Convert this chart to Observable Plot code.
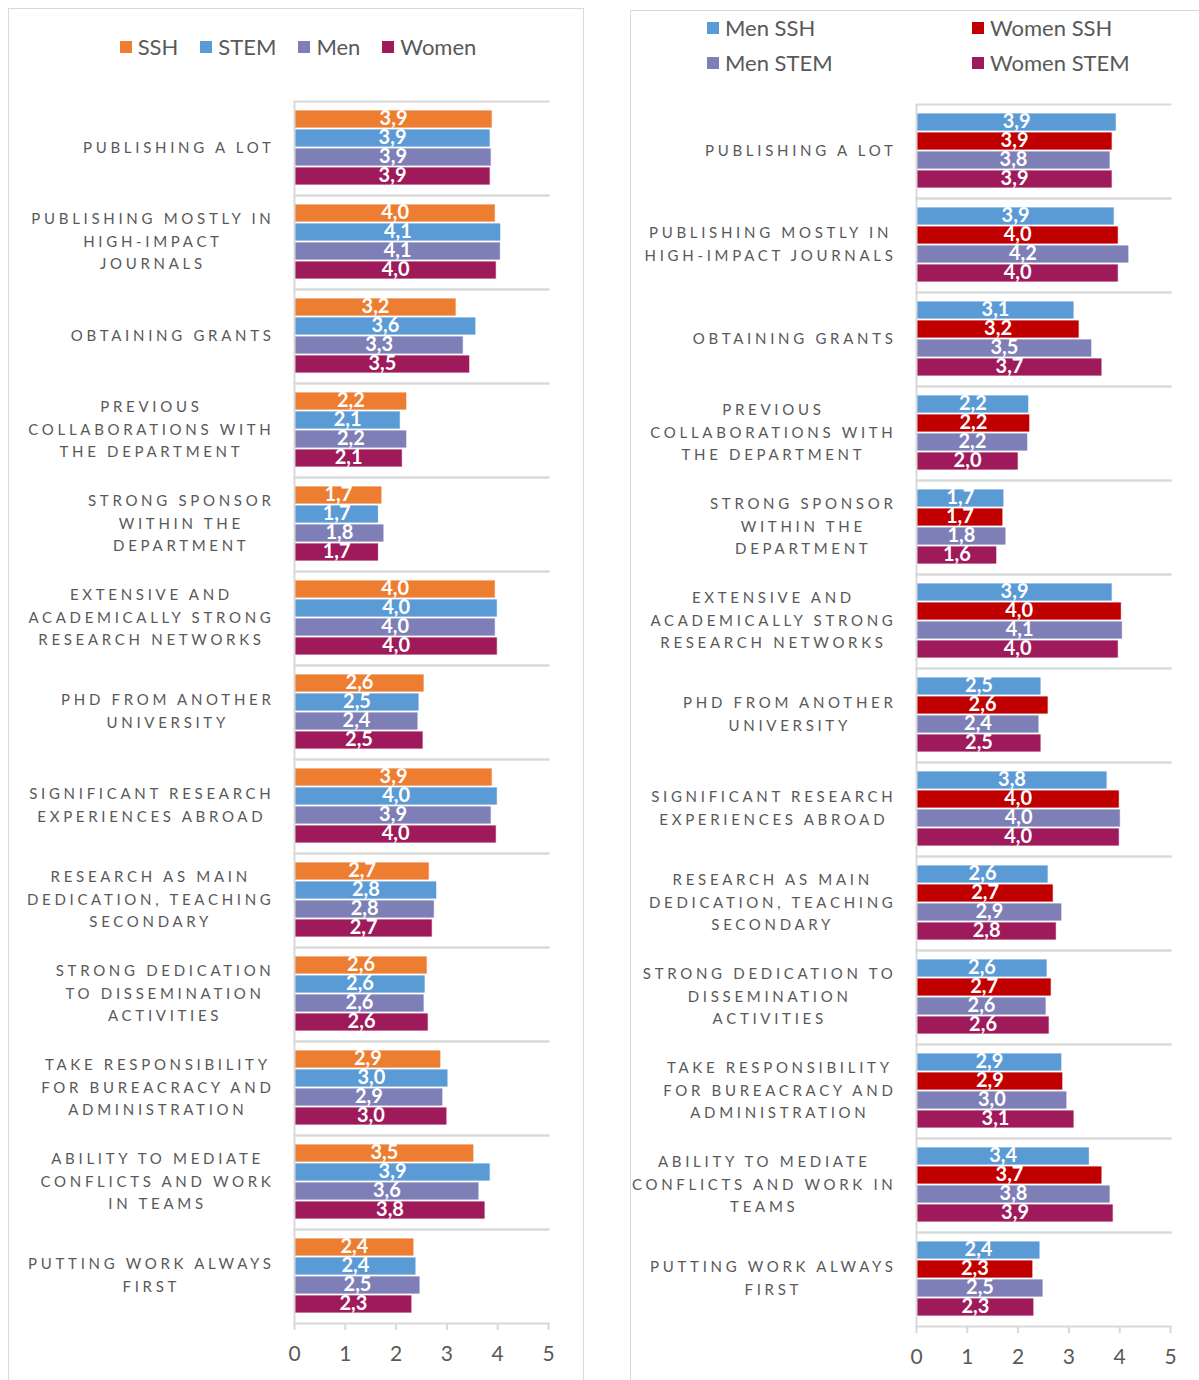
<!DOCTYPE html>
<html>
<head>
<meta charset="utf-8">
<script src="https://cdn.jsdelivr.net/npm/d3@7"></script>
<script src="https://cdn.jsdelivr.net/npm/@observablehq/plot@0.6"></script>
<style>
  html, body { margin: 0; padding: 0; background: #fff; overflow: hidden; width: 1199px; height: 1380px; }
  body { position: relative; font-family: Lato, "Open Sans", sans-serif; }
  .panel { position: absolute; width: 576px; height: 1400px; border: 1.5px solid #d9d9d9; box-sizing: border-box; }
  .chart { position: absolute; width: 576px; height: 1284px; }
  .chart svg { max-width: none !important; width: 576px; height: 1284px; }
  .legend { position: absolute; font-size: 22px; color: #595959; }
  .item { display: flex; align-items: center; white-space: nowrap; }
  .sw { width: 12px; height: 12px; margin-right: 6px; display: inline-block; }
  #legL { left: 10px; width: 576px; top: 33px; display: flex; justify-content: center; gap: 22px; }
  g[aria-label="fy-axis tick label"] text { letter-spacing: 3.7px; }
</style>
</head>
<body>
<div class="panel" style="left:8px; top:8px;"></div>
<div class="panel" style="left:630px; top:10px;"></div>
<div id="legL" class="legend"></div>
<div id="legR"></div>
<div id="chartL" class="chart" style="left:8px; top:90px;"></div>
<div id="chartR" class="chart" style="left:630px; top:93px;"></div>
<script>
// ---------- data ----------
const categories = [
  "Publishing a lot",
  "Publishing mostly in high-impact journals",
  "Obtaining grants",
  "Previous collaborations with the department",
  "Strong sponsor within the department",
  "Extensive and academically strong research networks",
  "PhD from another university",
  "Significant research experiences abroad",
  "Research as main dedication, teaching secondary",
  "Strong dedication to dissemination activities",
  "Take responsibility for bureacracy and administration",
  "Ability to mediate conflicts and work in teams",
  "Putting work always first"
];
const labelsLeft = [
  "PUBLISHING A LOT",
  "PUBLISHING MOSTLY IN\nHIGH-IMPACT\nJOURNALS",
  "OBTAINING GRANTS",
  "PREVIOUS\nCOLLABORATIONS WITH\nTHE DEPARTMENT",
  "STRONG SPONSOR\nWITHIN THE\nDEPARTMENT",
  "EXTENSIVE AND\nACADEMICALLY STRONG\nRESEARCH NETWORKS",
  "PHD FROM ANOTHER\nUNIVERSITY",
  "SIGNIFICANT RESEARCH\nEXPERIENCES ABROAD",
  "RESEARCH AS MAIN\nDEDICATION, TEACHING\nSECONDARY",
  "STRONG DEDICATION\nTO DISSEMINATION\nACTIVITIES",
  "TAKE RESPONSIBILITY\nFOR BUREACRACY AND\nADMINISTRATION",
  "ABILITY TO MEDIATE\nCONFLICTS AND WORK\nIN TEAMS",
  "PUTTING WORK ALWAYS\nFIRST"
];
const labelsRight = [
  "PUBLISHING A LOT",
  "PUBLISHING MOSTLY IN\nHIGH-IMPACT JOURNALS",
  "OBTAINING GRANTS",
  "PREVIOUS\nCOLLABORATIONS WITH\nTHE DEPARTMENT",
  "STRONG SPONSOR\nWITHIN THE\nDEPARTMENT",
  "EXTENSIVE AND\nACADEMICALLY STRONG\nRESEARCH NETWORKS",
  "PHD FROM ANOTHER\nUNIVERSITY",
  "SIGNIFICANT RESEARCH\nEXPERIENCES ABROAD",
  "RESEARCH AS MAIN\nDEDICATION, TEACHING\nSECONDARY",
  "STRONG DEDICATION TO\nDISSEMINATION\nACTIVITIES",
  "TAKE RESPONSIBILITY\nFOR BUREACRACY AND\nADMINISTRATION",
  "ABILITY TO MEDIATE\nCONFLICTS AND WORK IN\nTEAMS",
  "PUTTING WORK ALWAYS\nFIRST"
];

// left panel
const seriesLeft = ["SSH", "STEM", "Men", "Women"];
const colorsLeft = ["#ED7D31", "#5B9BD5", "#7F7FB8", "#9E1A5A"];
const ssh   = [3.90, 3.96, 3.19, 2.22, 1.73, 3.96, 2.56, 3.90, 2.66, 2.62, 2.89, 3.54, 2.36];
const stem  = [3.86, 4.07, 3.58, 2.09, 1.66, 4.00, 2.46, 4.00, 2.81, 2.58, 3.03, 3.86, 2.40];
const men   = [3.88, 4.06, 3.33, 2.22, 1.77, 3.96, 2.44, 3.88, 2.76, 2.56, 2.93, 3.64, 2.48];
const women = [3.86, 3.98, 3.46, 2.13, 1.66, 4.00, 2.54, 3.98, 2.72, 2.64, 3.01, 3.76, 2.32];

// right panel
const seriesRight = ["Men SSH", "Women SSH", "Men STEM", "Women STEM"];
const colorsRight = ["#5B9BD5", "#C00000", "#7F7FB8", "#9E1A5A"];
const menSSH    = [3.94, 3.90, 3.11, 2.22, 1.73, 3.86, 2.46, 3.76, 2.60, 2.58, 2.87, 3.41, 2.44];
const womenSSH  = [3.86, 3.98, 3.21, 2.24, 1.71, 4.04, 2.60, 4.00, 2.70, 2.66, 2.89, 3.66, 2.30];
const menSTEM   = [3.82, 4.19, 3.46, 2.20, 1.77, 4.06, 2.42, 4.02, 2.87, 2.56, 2.97, 3.82, 2.50];
const womenSTEM = [3.86, 3.98, 3.66, 2.01, 1.59, 3.98, 2.46, 4.00, 2.76, 2.62, 3.11, 3.88, 2.32];

const xTicks = [0, 1, 2, 3, 4, 5];

// ---------- helpers ----------
const fmt = v => v.toFixed(1).replace(".", ",");
function rowsFrom(names, arrays) {
  const rows = [];
  categories.forEach((c, i) => names.forEach((s, j) => rows.push({cat: c, series: s, value: arrays[j][i]})));
  return rows;
}

function chart(rows, names, colors, labels) {
  return Plot.plot({
    width: 576,
    height: 1284,
    marginLeft: 286,
    marginRight: 36,
    marginTop: 10,
    marginBottom: 50,
    style: {fontFamily: "Lato, 'Open Sans', sans-serif", background: "transparent", overflow: "visible"},
    x: {domain: [0, 5], label: null},
    fy: {domain: categories, padding: 0, label: null},
    y: {domain: names, axis: null, paddingInner: 0.03, paddingOuter: 0.37},
    color: {domain: names, range: colors},
    marks: [
      Plot.frame({anchor: "top", stroke: "#d9d9d9", strokeWidth: 2, strokeOpacity: 1}),
      Plot.frame({anchor: "bottom", stroke: "#d9d9d9", strokeWidth: 2, strokeOpacity: 1}),
      Plot.barX(rows, {fy: "cat", y: "series", x: "value", fill: "series", stroke: "white", strokeWidth: 0.8}),
      Plot.ruleX([0], {stroke: "#d9d9d9", strokeWidth: 2}),
      Plot.text(rows, {fy: "cat", y: "series", x: d => d.value / 2, text: d => fmt(d.value),
        fill: "white", fontWeight: "bold", fontSize: 20, dy: -1}),
      Plot.axisX({anchor: "bottom", ticks: xTicks, tickFormat: d => String(d), tickSize: 7,
        tickPadding: 16, stroke: "#d9d9d9", strokeWidth: 2, fontSize: 21, fill: "#595959", strokeOpacity: 1}),
      Plot.axisFy({anchor: "left", tickSize: 0, tickPadding: 20, fontSize: 15, fill: "#595959",
        lineHeight: 1.51, dy: -3, tickFormat: d => labels[categories.indexOf(d)], label: null})
    ]
  });
}

function fixLabels(svg) {
  svg.querySelectorAll('g[aria-label="fy-axis tick label"] text').forEach(t => {
    const w = t.getBBox().width;
    t.setAttribute("text-anchor", "middle");
    const tr = t.getAttribute("transform") || "";
    t.setAttribute("transform", tr + ` translate(${-w / 2},0)`);
  });
}

// ---------- legends ----------
const legL = document.getElementById("legL");
seriesLeft.forEach((s, i) => {
  const it = document.createElement("div");
  it.className = "item";
  it.innerHTML = `<span class="sw" style="background:${colorsLeft[i]}"></span>${s}`;
  legL.appendChild(it);
});
const legR = document.getElementById("legR");
const rpos = [[707, 14], [972, 14], [707, 49], [972, 49]];
seriesRight.forEach((s, i) => {
  const it = document.createElement("div");
  it.className = "item legend";
  it.style.left = rpos[i][0] + "px";
  it.style.top = rpos[i][1] + "px";
  it.innerHTML = `<span class="sw" style="background:${colorsRight[i]}"></span>${s}`;
  legR.appendChild(it);
});

// ---------- charts ----------
const svgL = chart(rowsFrom(seriesLeft, [ssh, stem, men, women]), seriesLeft, colorsLeft, labelsLeft);
document.getElementById("chartL").appendChild(svgL);
fixLabels(svgL);
const svgR = chart(rowsFrom(seriesRight, [menSSH, womenSSH, menSTEM, womenSTEM]), seriesRight, colorsRight, labelsRight);
document.getElementById("chartR").appendChild(svgR);
fixLabels(svgR);
</script>
</body>
</html>
